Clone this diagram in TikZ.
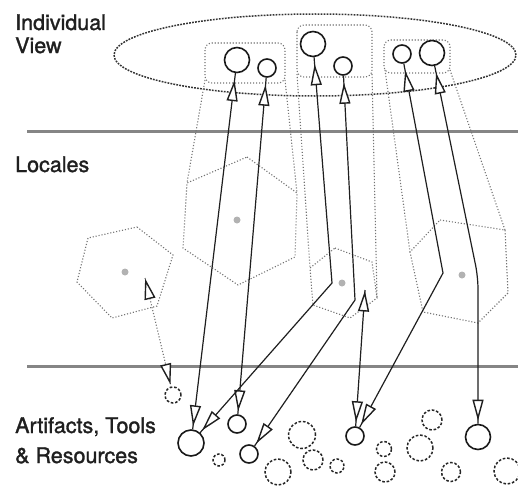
\documentclass[tikz,border=0pt]{standalone}
\usepackage{fontspec}
\setmainfont{TeX Gyre Heros}
\newfontfamily\lblfont{TeX Gyre Heros}[FakeBold=1.4]
\usetikzlibrary{arrows.meta,decorations.markings}
\begin{document}
\begin{tikzpicture}[x=1pt,y=-1pt,
  lbl/.style={anchor=base west, inner sep=0pt, font=\lblfont\fontsize{21.5}{25}\selectfont, text=black!88},
  band/.style={draw=black!48, line width=3pt},
  dotline/.style={draw=black!55, line width=1.1pt, dash pattern=on 1.1pt off 1.9pt},
  viewring/.style={draw=black!80, line width=1.5pt, dash pattern=on 1.8pt off 1.2pt},
  person/.style={circle, draw=black!90, line width=1.6pt, inner sep=0pt, minimum size=#1},
  resource/.style={circle, draw=black!85, line width=1.5pt, dash pattern=on 2.6pt off 1.8pt, inner sep=0pt, minimum size=#1},
  centre/.style={circle, fill=black!30, inner sep=0pt, minimum size=7pt},
  link/.style 2 args={draw=black!88, line width=1.2pt, postaction={decorate},
    decoration={markings,
      mark=at position #1 with {\arrowreversed{Triangle[length=21pt,width=11pt,fill=white,line width=1.4pt]}},
      mark=at position -#2 with {\arrow{Triangle[length=21pt,width=11pt,fill=white,line width=1.4pt]}}}},
  dotlink/.style 2 args={draw=black!55, line width=1.1pt, dash pattern=on 1.1pt off 1.9pt, postaction={decorate},
    decoration={markings,
      mark=at position #1 with {\arrowreversed{Triangle[length=21pt,width=11pt,color=black!88,fill=white,line width=1.4pt]}},
      mark=at position -#2 with {\arrow{Triangle[length=21pt,width=11pt,color=black!88,fill=white,line width=1.4pt]}}}},
]
\useasboundingbox (0,0) rectangle (518,487);

% layer separators
\coordinate (s1a) at (27,131); \coordinate (s1b) at (518,131);
\coordinate (s2a) at (27,366); \coordinate (s2b) at (518,366);
\draw[band] (s1a) -- (s1b);
\draw[band] (s2a) -- (s2b);

% layer titles
\node[lbl] (t1) at (15,30) {Individual};
\node[lbl] (t2) at (15,53) {View};
\node[lbl] (t3) at (15,172) {Locales};
\node[lbl] (t4) at (15,433) {Artifacts, Tools};
\node[lbl] (t5) at (15,463) {\& Resources};

% individual view
\draw[viewring] (315,55) ellipse [x radius=201pt, y radius=41pt];

% groups of people and their projections onto locales
\draw[dotline, rounded corners=7pt] (205,43) rectangle (285,83);
\draw[dotline, rounded corners=7pt] (297,25) rectangle (372,77);
\draw[dotline, rounded corners=7pt] (384,40) rectangle (450,73);
\draw[dotline] (205,80) -- (187,183);
\draw[dotline] (285,80) -- (297,193);
\draw[dotline] (297,74) -- (310,268);
\draw[dotline] (372,74) -- (377,297);
\draw[dotline] (385,70) -- (410,252);
\draw[dotline] (450,70) -- (505,230);

% locales
\draw[dotline] (247,157) -- (297,193) -- (295,257) -- (238,285) -- (183,248) -- (187,183) -- cycle;
\draw[dotline] (335,248) -- (372,262) -- (377,298) -- (350,318) -- (313,305) -- (310,268) -- cycle;
\draw[dotline] (137,227) -- (173,255) -- (157,306) -- (112,318) -- (77,282) -- (88,238) -- cycle;
\draw[dotline] (440,220) -- (505,230) -- (508,293) -- (478,323) -- (423,312) -- (410,252) -- cycle;
\node[centre] (L1) at (237,220) {};
\node[centre] (L2) at (342,283) {};
\node[centre] (L3) at (125,272) {};
\node[centre] (L4) at (462,275) {};

% people
\node[person=25pt] (A) at (237,60) {};
\node[person=18pt] (B) at (267,68) {};
\node[person=25pt] (C) at (313,44) {};
\node[person=18pt] (D) at (343,66) {};
\node[person=18pt] (E) at (402,54) {};
\node[person=25pt] (F) at (432,53) {};

% artifacts and tools in use
\node[person=26pt] (G) at (191,443) {};
\node[person=18pt] (H) at (237,424) {};
\node[person=18pt] (I) at (249,454) {};
\node[person=18pt] (J) at (355,436) {};
\node[person=25pt] (K) at (478,437) {};

% available resources
\node[resource=16pt] (r1) at (173,395) {};
\node[resource=12pt] (r2) at (219,460) {};
\node[resource=26pt] (r3) at (278,472) {};
\node[resource=27pt] (r4) at (302,435) {};
\node[resource=20pt] (r5) at (313,460) {};
\node[resource=14pt] (r6) at (337,466) {};
\node[resource=15pt] (r7) at (384,449) {};
\node[resource=20pt] (r8) at (385,472) {};
\node[resource=26pt] (r9) at (420,448) {};
\node[resource=20pt] (r10) at (432,420) {};
\node[resource=19pt] (r11) at (451,472) {};
\node[resource=26pt] (r12) at (507,471) {};

% bends of the links through the locales
\coordinate (bc) at (332,283);
\coordinate (bd) at (355,300);
\coordinate (be) at (443,273);
\coordinate (bf) at (478,277);
\coordinate (h2tip) at (365,290);
\coordinate (h3tip) at (145,278);

% links
\draw[link={7pt}{3pt}] (A) -- (G);
\draw[link={7pt}{3pt}] (B) -- (H);
\draw[link={7pt}{3pt}] (C) -- (bc) -- (G);
\draw[link={7pt}{3pt}] (D) -- (bd) -- (I);
\draw[link={7pt}{3pt}] (E) -- (be) -- (J);
\draw[link={7pt}{3pt}, rounded corners=12pt] (F) -- (bf) -- (K);
\draw[link={0.5pt}{4pt}] (h2tip) -- (J);
\draw[dotlink={0.5pt}{2pt}] (h3tip) -- (r1);
\end{tikzpicture}
\end{document}
